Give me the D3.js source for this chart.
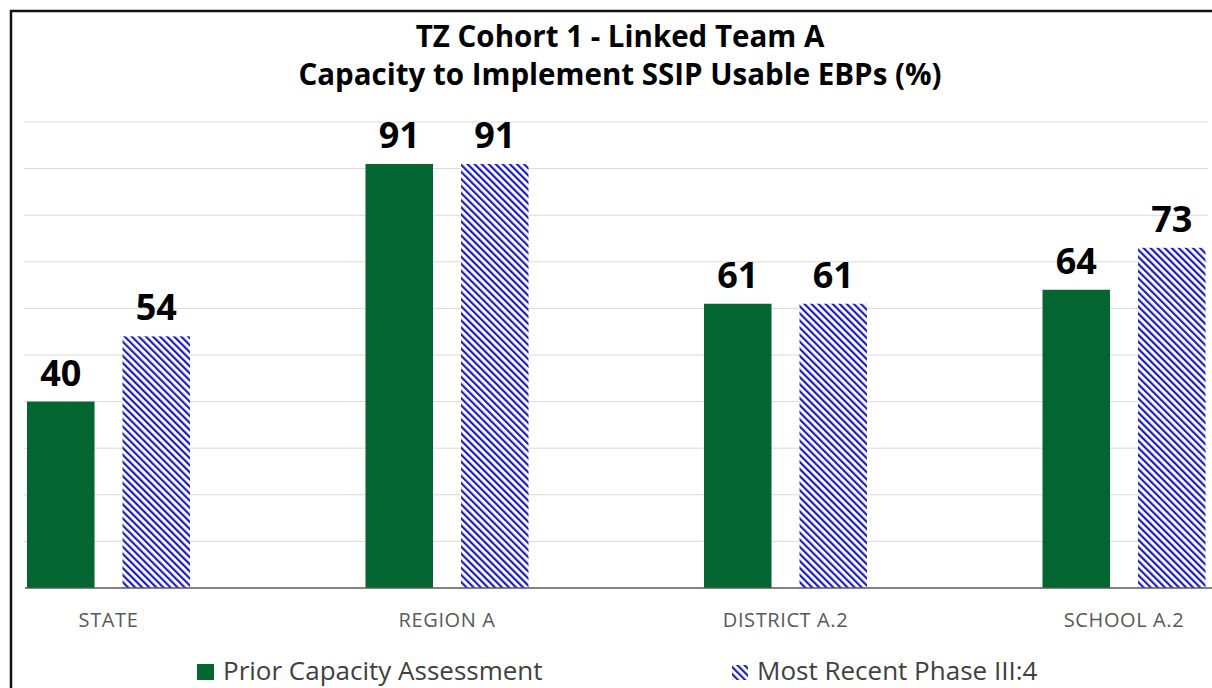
<!DOCTYPE html>
<html>
<head>
<meta charset="utf-8">
<script src="https://cdn.jsdelivr.net/npm/d3@7"></script>
<style>
  html, body { margin: 0; padding: 0; background: #fff; }
  svg { display: block; }
</style>
</head>
<body>
<svg id="chart" width="1212" height="688"></svg>
<script>
// Chart data
const categories = ["STATE", "REGION A", "DISTRICT A.2", "SCHOOL A.2"];
const priorValues = [40, 91, 61, 64];
const recentValues = [54, 91, 61, 73];
const seriesNames = ["Prior Capacity Assessment", "Most Recent Phase III:4"];
const yTicks = [0, 10, 20, 30, 40, 50, 60, 70, 80, 90, 100];

const W = 1212, H = 688;
const font = "'Open Sans', sans-serif";
const green = "#036630";
const blue = "#1c1cc0";

const svg = d3.select("#chart");

// hatch pattern ("\" stripes)
const defs = svg.append("defs");
const pat = defs.append("pattern")
  .attr("id", "hatch")
  .attr("patternUnits", "userSpaceOnUse")
  .attr("width", 5).attr("height", 5)
  .attr("patternTransform", "rotate(-45)");
pat.append("rect").attr("width", 5).attr("height", 5).attr("fill", "#fff");
pat.append("rect").attr("x", 0).attr("y", 0).attr("width", 2.2).attr("height", 5).attr("fill", blue);

// frame
svg.append("rect")
  .attr("x", 11).attr("y", 11)
  .attr("width", W + 20).attr("height", H + 20)
  .attr("fill", "#fff")
  .attr("stroke", "#111").attr("stroke-width", 2.5);

// scales
const y = d3.scaleLinear().domain([0, 100]).range([588, 122]);
const x0 = d3.scaleBand().domain(categories).range([-60.75, 1293.25]);
const groupW = 163;
const x1 = d3.scaleBand().domain([0, 1]).range([0, groupW]).paddingInner(0.293);

// gridlines
svg.append("g").selectAll("line")
  .data(yTicks.filter(t => t > 0))
  .join("line")
  .attr("x1", 24).attr("x2", 1208)
  .attr("y1", d => y(d)).attr("y2", d => y(d))
  .attr("stroke", "#d9d9d9").attr("stroke-width", 1);

// bars
const rows = categories.map((c, i) => ({ cat: c, vals: [priorValues[i], recentValues[i]] }));
const grp = svg.append("g").selectAll("g")
  .data(rows).join("g")
  .attr("transform", d => `translate(${x0(d.cat) + (x0.bandwidth() - groupW) / 2},0)`);

grp.selectAll("rect")
  .data(d => d.vals.map((v, k) => ({ v, k })))
  .join("rect")
  .attr("x", d => x1(d.k))
  .attr("width", x1.bandwidth())
  .attr("y", d => y(d.v))
  .attr("height", d => y(0) - y(d.v))
  .attr("fill", d => d.k === 0 ? green : "url(#hatch)");

grp.selectAll("text")
  .data(d => d.vals.map((v, k) => ({ v, k })))
  .join("text")
  .attr("x", d => x1(d.k) + x1.bandwidth() / 2)
  .attr("y", d => y(d.v) - 16)
  .attr("text-anchor", "middle")
  .attr("font-family", font)
  .attr("font-weight", "bold")
  .attr("font-size", 36)
  .attr("fill", "#000")
  .text(d => d.v);

// baseline
svg.append("line")
  .attr("x1", 25).attr("x2", 1212)
  .attr("y1", y(0)).attr("y2", y(0))
  .attr("stroke", "#595959").attr("stroke-width", 1.5);

// category labels
svg.append("g").selectAll("text")
  .data(categories).join("text")
  .attr("x", d => x0(d) + x0.bandwidth() / 2)
  .attr("y", 627)
  .attr("text-anchor", "middle")
  .attr("font-family", font)
  .attr("font-size", 20)
  .attr("letter-spacing", 0.6)
  .attr("fill", "#595959")
  .text(d => d);

// title
const title = ["TZ Cohort 1 - Linked Team A", "Capacity to Implement SSIP Usable EBPs (%)"];
svg.append("g").selectAll("text")
  .data(title).join("text")
  .attr("x", 620)
  .attr("y", (d, i) => 47 + i * 38)
  .attr("text-anchor", "middle")
  .attr("font-family", font)
  .attr("font-weight", "bold")
  .attr("font-size", 29.5)
  .attr("fill", "#000")
  .text(d => d);

// legend
const legend = svg.append("g");
legend.append("rect").attr("x", 197).attr("y", 664).attr("width", 17).attr("height", 16).attr("fill", green);
legend.append("text").attr("x", 223).attr("y", 680)
  .attr("font-family", font).attr("font-size", 26).attr("fill", "#404040")
  .text(seriesNames[0]);
legend.append("rect").attr("x", 732).attr("y", 665).attr("width", 16).attr("height", 15).attr("fill", "url(#hatch)");
legend.append("text").attr("x", 757).attr("y", 680)
  .attr("font-family", font).attr("font-size", 26).attr("fill", "#404040")
  .text(seriesNames[1]);
</script>
</body>
</html>
